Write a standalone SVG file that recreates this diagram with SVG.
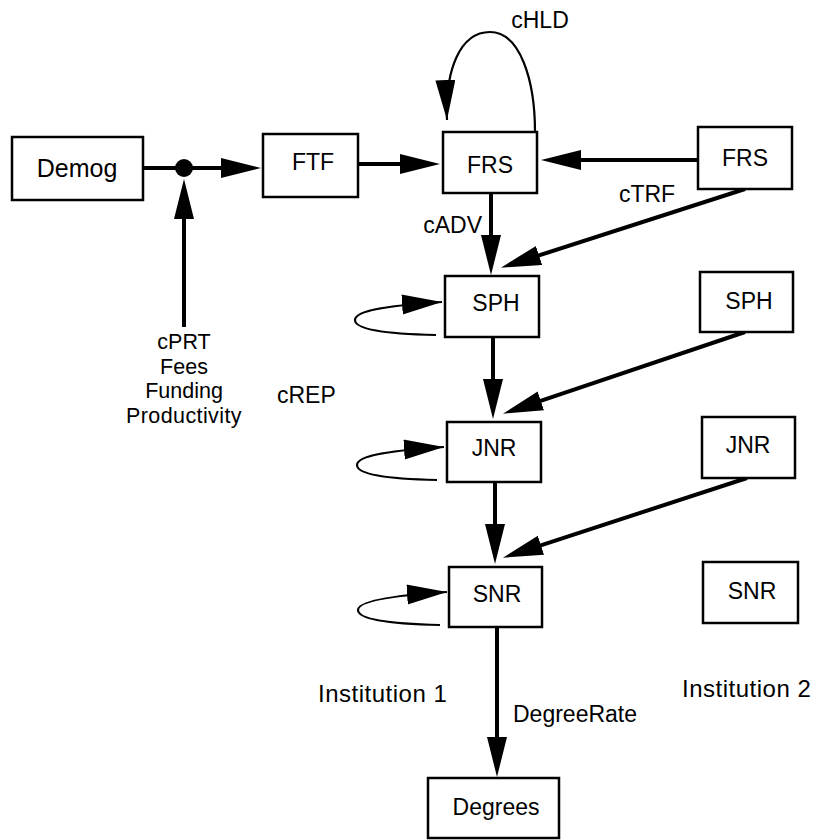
<svg xmlns="http://www.w3.org/2000/svg" width="817" height="840" viewBox="0 0 817 840">
<style>
  .box{fill:#fff;stroke:#000;stroke-width:2.5}
  .t{font-family:"Liberation Sans",Arial,sans-serif;font-size:23px;fill:#000}
  .m{text-anchor:middle}
  .s{font-size:21.5px}
  .thick{fill:none;stroke:#000;stroke-width:4;marker-end:url(#hb)}
  .thin{fill:none;stroke:#000;stroke-width:2.2;marker-end:url(#ht)}
</style>
<defs>
  <marker id="hb" markerUnits="userSpaceOnUse" markerWidth="42" markerHeight="22" refX="1" refY="10" orient="auto">
    <path d="M0,0 L40,10 L0,20 z" fill="#000"/>
  </marker>
  <marker id="ht" markerUnits="userSpaceOnUse" markerWidth="42" markerHeight="22" refX="40" refY="10" orient="auto">
    <path d="M0,0 L40,10 L0,20 z" fill="#000"/>
  </marker>
</defs>
<rect width="817" height="840" fill="#fff"/>
<g id="connectors">
  <line x1="143" y1="168" x2="222" y2="168" class="thick"/>
  <line x1="184" y1="327" x2="184" y2="218" class="thick"/>
  <line x1="358" y1="164" x2="401" y2="164" class="thick"/>
  <line x1="698" y1="160" x2="580" y2="160" class="thick"/>
  <line x1="491" y1="193" x2="491" y2="236" class="thick"/>
  <line x1="745" y1="189" x2="538.1" y2="255.7" class="thick"/>
  <line x1="493" y1="337" x2="493" y2="380" class="thick"/>
  <line x1="745" y1="332" x2="539.9" y2="401.2" class="thick"/>
  <line x1="495" y1="482" x2="495" y2="525" class="thick"/>
  <line x1="747" y1="478" x2="540" y2="545.6" class="thick"/>
  <line x1="497" y1="627" x2="497" y2="738" class="thick"/>
  <path d="M535,132 C535,80 520,32 490,32 C460,32 445,70 447,120" class="thin"/>
  <path d="M436,335 C390,334 355,330 355,320 C355,310 395,305 442,302" class="thin"/>
  <path d="M437,480 C391,479 357,475 357,465 C357,455 397,450 444,447" class="thin"/>
  <path d="M440,625 C395,624 358,620 358,610 C358,600 400,595 447,592" class="thin"/>
  <circle cx="184" cy="168" r="9" fill="#000"/>
</g>
<g id="demog"><rect class="box" x="12" y="137" width="131" height="63"/><text class="t m" x="77" y="177" style="font-size:25px">Demog</text></g>
<g id="ftf"><rect class="box" x="263" y="134" width="95" height="63"/><text class="t m" x="313" y="170">FTF</text></g>
<g id="frs1"><rect class="box" x="443" y="132" width="94" height="61"/><text class="t m" x="490" y="173">FRS</text></g>
<g id="frs2"><rect class="box" x="698" y="127" width="94" height="62"/><text class="t m" x="745" y="166">FRS</text></g>
<g id="sph1"><rect class="box" x="445" y="276" width="94" height="61"/><text class="t m" x="496" y="311">SPH</text></g>
<g id="sph2"><rect class="box" x="700" y="272" width="93" height="60"/><text class="t m" x="749" y="309">SPH</text></g>
<g id="jnr1"><rect class="box" x="447" y="422" width="94" height="60"/><text class="t m" x="494" y="456">JNR</text></g>
<g id="jnr2"><rect class="box" x="702" y="417" width="93" height="61"/><text class="t m" x="748" y="453">JNR</text></g>
<g id="snr1"><rect class="box" x="449" y="567" width="93" height="60"/><text class="t m" x="497" y="602">SNR</text></g>
<g id="snr2"><rect class="box" x="703" y="562" width="95" height="61"/><text class="t m" x="752" y="599">SNR</text></g>
<g id="degrees"><rect class="box" x="428" y="778" width="131" height="60"/><text class="t m" x="496" y="815">Degrees</text></g>
<g id="labels">
  <text class="t m" x="540" y="28">cHLD</text>
  <text class="t m" x="647" y="202">cTRF</text>
  <text class="t" x="482" y="233" text-anchor="end">cADV</text>
  <text class="t" x="277" y="403">cREP</text>
  <text class="t m s" x="184" y="349">cPRT</text>
  <text class="t m s" x="184" y="373.5">Fees</text>
  <text class="t m s" x="184" y="398">Funding</text>
  <text class="t m s" x="184" y="422.5" style="letter-spacing:0.4px">Productivity</text>
  <text class="t" x="318" y="702" style="font-size:24px;letter-spacing:0.5px">Institution 1</text>
  <text class="t" x="682" y="697" style="font-size:24px;letter-spacing:0.5px">Institution 2</text>
  <text class="t" x="513" y="722">DegreeRate</text>
</g>
</svg>
